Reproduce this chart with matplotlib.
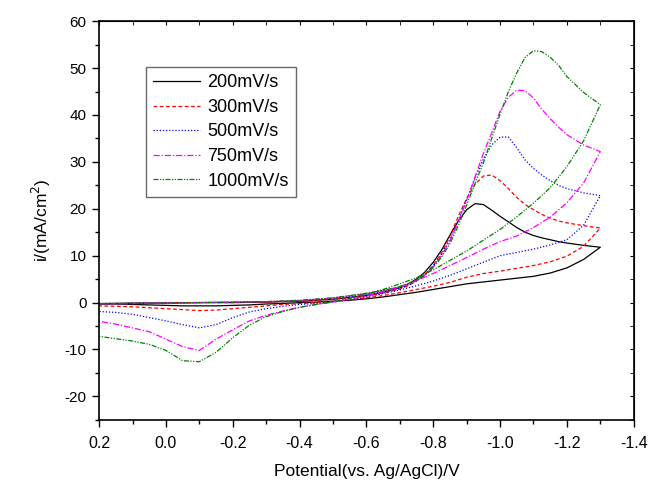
import numpy as np
import matplotlib
matplotlib.use('Agg')
from matplotlib import pyplot as plt
from matplotlib.ticker import MultipleLocator

plt.rcParams['font.family'] = ['Liberation Sans', 'DejaVu Sans']
plt.rcParams['axes.unicode_minus'] = False

# forward sweep potentials (V)
e_fwd = [0.2, 0.1, 0.0, -0.1, -0.2, -0.3, -0.4, -0.5, -0.6, -0.65,
         -0.7, -0.725, -0.75, -0.775, -0.8, -0.825, -0.85, -0.875, -0.9, -0.925,
         -0.95, -0.975, -1.0, -1.025, -1.05, -1.075, -1.1, -1.125, -1.15, -1.175,
         -1.2, -1.25, -1.3]
# return sweep potentials (V)
e_ret = [-1.3, -1.25, -1.2, -1.15, -1.1, -1.05, -1.0, -0.95, -0.9, -0.85,
         -0.8, -0.75, -0.7, -0.65, -0.6, -0.55, -0.5, -0.45, -0.4, -0.35,
         -0.3, -0.25, -0.2, -0.15, -0.1, -0.05, 0.0, 0.05, 0.1, 0.15, 0.2]

labels = ['200mV/s', '300mV/s', '500mV/s', '750mV/s', '1000mV/s']

i200_fwd = [-0.2, -0.1, -0.1, 0.0, 0.0, 0.1, 0.3, 0.7, 1.5, 2.2,
            3.2, 4.0, 5.0, 6.5, 8.6, 11.2, 14.4, 17.4, 19.8, 21.1,
            20.9, 19.7, 18.4, 17.2, 16.0, 15.0, 14.3, 13.8, 13.4, 13.0,
            12.7, 12.2, 11.8]
i200_ret = [11.8, 9.2, 7.4, 6.3, 5.6, 5.2, 4.8, 4.4, 4.0, 3.4,
            2.8, 2.2, 1.7, 1.2, 0.8, 0.5, 0.3, 0.1, 0.0, -0.2,
            -0.3, -0.5, -0.6, -0.7, -0.7, -0.7, -0.6, -0.5, -0.4, -0.3, -0.3]

i300_fwd = [-0.3, -0.2, -0.1, 0.0, 0.0, 0.1, 0.3, 0.7, 1.4, 2.0,
            2.9, 3.6, 4.6, 6.0, 8.0, 10.6, 14.2, 18.4, 22.2, 25.2,
            27.0, 27.2, 26.0, 24.3, 22.4, 20.9, 19.8, 18.8, 18.0, 17.4,
            17.0, 16.4, 15.9]
i300_ret = [15.9, 12.0, 9.9, 8.7, 7.9, 7.3, 6.7, 6.2, 5.4, 4.3,
            3.5, 2.8, 2.1, 1.5, 1.0, 0.6, 0.3, 0.0, -0.2, -0.4,
            -0.7, -1.0, -1.3, -1.6, -1.7, -1.5, -1.3, -1.1, -0.9, -0.8, -0.7]

i500_fwd = [-0.3, -0.2, -0.1, 0.0, 0.1, 0.2, 0.4, 0.9, 1.7, 2.3,
            3.1, 3.7, 4.6, 5.9, 7.8, 10.3, 13.5, 17.5, 22.0, 26.5,
            30.6, 33.6, 35.3, 35.3, 33.0, 30.4, 28.6, 27.2, 26.0, 25.0,
            24.3, 23.4, 22.8]
i500_ret = [22.8, 16.5, 13.4, 12.3, 11.4, 10.7, 10.0, 8.6, 7.2, 5.8,
            4.6, 3.6, 2.7, 1.9, 1.2, 0.6, 0.1, -0.2, -0.4, -0.8,
            -1.3, -2.0, -3.2, -4.7, -5.4, -4.7, -3.9, -3.2, -2.5, -2.1, -1.9]

i750_fwd = [-0.3, -0.2, -0.1, 0.0, 0.1, 0.2, 0.4, 1.0, 1.9, 2.5,
            3.3, 3.9, 4.7, 5.9, 7.6, 10.0, 13.2, 17.2, 21.8, 26.8,
            31.8, 36.2, 40.8, 43.8, 45.3, 45.2, 43.6, 41.2, 39.2, 37.4,
            35.8, 33.6, 32.2]
i750_ret = [32.2, 25.5, 21.3, 18.2, 16.0, 14.2, 13.0, 11.4, 9.6, 7.9,
            6.2, 4.7, 3.4, 2.3, 1.4, 0.7, 0.1, -0.4, -1.0, -1.8,
            -2.7, -3.9, -5.8, -7.8, -10.2, -9.4, -7.8, -6.2, -5.4, -4.6, -4.0]

i1000_fwd = [-0.3, -0.2, -0.1, 0.0, 0.1, 0.2, 0.5, 1.0, 2.0, 2.6,
             3.4, 4.0, 4.8, 5.9, 7.5, 9.7, 12.6, 16.4, 20.8, 25.4,
             29.8, 35.0, 40.2, 45.0, 49.0, 52.3, 53.7, 53.5, 52.3, 50.6,
             48.2, 44.8, 42.2]
i1000_ret = [42.2, 34.5, 29.0, 24.5, 21.2, 18.3, 15.6, 13.3, 11.0, 9.0,
             7.0, 5.3, 4.0, 2.8, 1.8, 0.9, 0.2, -0.4, -1.0, -1.9,
             -3.0, -4.8, -7.5, -10.6, -12.6, -12.4, -10.2, -8.9, -8.2, -7.7, -7.2]

fwd_all = [i200_fwd, i300_fwd, i500_fwd, i750_fwd, i1000_fwd]
ret_all = [i200_ret, i300_ret, i500_ret, i750_ret, i1000_ret]
colors = ['black', '#ff0000', '#0000ff', '#ff00ff', '#008000']
styles = ['-', (0, (3, 2)), (0, (1, 1.5)), (0, (5, 1.5, 1, 1.5)), (0, (4, 1.2, 1, 1.2, 1, 1.2))]

fig = plt.figure(figsize=(6.52, 4.82), dpi=100)
ax = fig.add_axes([0.152, 0.129, 0.820, 0.827])

for k in range(5):
    e = np.concatenate([e_fwd, e_ret[1:]])
    i = np.concatenate([fwd_all[k], ret_all[k][1:]])
    ax.plot(e, i, color=colors[k], linestyle=styles[k], lw=0.9, label=labels[k])

ax.set_xlim(0.2, -1.4)
ax.set_ylim(-25, 60)
ax.xaxis.set_major_locator(MultipleLocator(0.2))
ax.xaxis.set_minor_locator(MultipleLocator(0.1))
ax.yaxis.set_major_locator(MultipleLocator(10))
ax.yaxis.set_minor_locator(MultipleLocator(5))
ax.set_xticklabels([f'{v:.1f}' for v in ax.get_xticks()])
ax.set_xlim(0.2, -1.4)

ax.tick_params(which='both', direction='out', top=False, right=False)
ax.tick_params(which='major', length=5, width=1)
ax.tick_params(which='minor', length=3, width=1)
ax.tick_params(axis='x', which='major', labelsize=11.5, pad=7)
ax.tick_params(axis='y', which='major', labelsize=11, pad=4)
for s in ax.spines.values():
    s.set_linewidth(1.2)

# inward ticks on top and right
ax2 = ax.secondary_xaxis('top')
ax2.xaxis.set_major_locator(MultipleLocator(0.2))
ax2.xaxis.set_minor_locator(MultipleLocator(0.1))
ax2.tick_params(which='both', direction='in', labeltop=False, length=3)
ax3 = ax.secondary_yaxis('right')
ax3.yaxis.set_major_locator(MultipleLocator(10))
ax3.yaxis.set_minor_locator(MultipleLocator(5))
ax3.tick_params(which='both', direction='in', labelright=False, length=3)

ax.set_xlabel('Potential(vs. Ag/AgCl)/V', fontsize=12.5, labelpad=9)
ax.set_ylabel('i/(mA/cm$^2$)', fontsize=12.5, labelpad=8)

leg = ax.legend(loc='upper left', bbox_to_anchor=(0.088, 0.885), fontsize=13,
                frameon=True, fancybox=False, handlelength=2.6, handletextpad=0.4,
                borderpad=0.4, labelspacing=0.42, borderaxespad=0)
leg.get_frame().set_edgecolor('#444444')
leg.get_frame().set_linewidth(1.0)

plt.savefig('out.png', dpi=100)
